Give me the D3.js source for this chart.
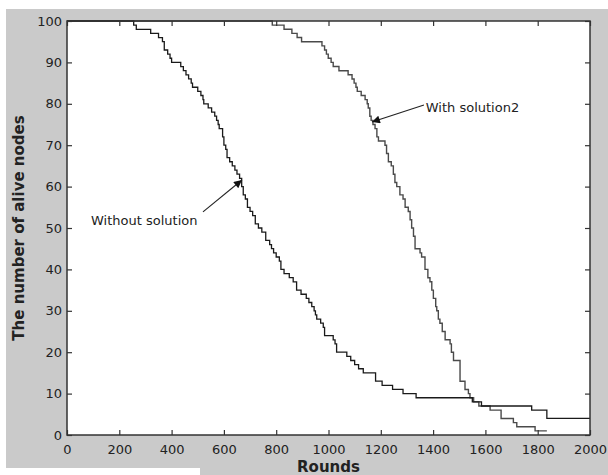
<!DOCTYPE html>
<html>
<head>
<meta charset="utf-8">
<script src="https://cdn.jsdelivr.net/npm/d3@7"></script>
<style>
  body { margin: 0; background: #fff; }
  svg { display: block; }
</style>
</head>
<body>
<script>
const WIDTH = 608;
const HEIGHT = 475;
const PLOT = {LEFT: 67, RIGHT: 590, TOP: 21, BOTTOM: 435};

// rounds where the number of alive nodes changes (step after)
const withoutRounds = [0, 255, 265, 320, 350, 365, 372, 385, 394, 400, 435, 445, 455, 465, 475, 480, 500, 512, 520, 523,
  540, 553, 565, 572, 578, 582, 595, 600, 607, 612, 622, 632, 642, 650, 660, 668, 674, 682, 690, 700,
  710, 720, 732, 745, 760, 775, 782, 790, 800, 812, 818, 830, 850, 865, 878, 895, 915, 925, 936, 945,
  950, 955, 970, 980, 985, 1018, 1025, 1031, 1070, 1085, 1100, 1115, 1133, 1180, 1205, 1245, 1285, 1335, 1550, 1585,
  1777, 1835, 2000];
const withoutNodes = [100, 99, 98, 97, 96, 95, 93, 92, 91, 90, 89, 88, 87, 86, 85, 84, 83, 82, 81, 80,
  79, 78, 77, 76, 75, 74, 72, 70, 69, 67, 66, 65, 64, 63, 62, 60, 58, 57, 55, 54,
  53, 51, 50, 49, 47, 46, 45, 44, 43, 42, 40, 39, 38, 37, 35, 34, 33, 32, 31, 30,
  29, 28, 27, 26, 24, 23, 22, 20, 19, 18, 17, 16, 15, 13, 12, 11, 10, 9, 8, 7,
  6, 4, 4];

const withRounds = [0, 785, 830, 860, 880, 897, 975, 985, 992, 999, 1010, 1018, 1040, 1075, 1090, 1098, 1105, 1110, 1125, 1140,
  1148, 1152, 1158, 1163, 1170, 1178, 1185, 1191, 1216, 1222, 1229, 1240, 1248, 1254, 1261, 1273, 1285, 1293, 1305, 1312,
  1318, 1325, 1331, 1350, 1356, 1369, 1380, 1388, 1395, 1401, 1410, 1414, 1420, 1426, 1435, 1446, 1465, 1470, 1478, 1503,
  1522, 1535, 1541, 1555, 1575, 1618, 1660, 1707, 1720, 1790, 1835];
const withNodes = [100, 99, 98, 97, 96, 95, 94, 93, 92, 91, 90, 89, 88, 87, 86, 85, 84, 83, 82, 81,
  80, 79, 77, 76, 75, 74, 72, 71, 70, 68, 66, 65, 63, 61, 60, 58, 57, 55, 54, 52,
  50, 48, 45, 44, 43, 40, 38, 37, 35, 33, 31, 30, 28, 27, 25, 23, 22, 20, 18, 13,
  11, 10, 9, 8, 7, 6, 4, 3, 2, 1, 1];

const xTicks = [0, 200, 400, 600, 800, 1000, 1200, 1400, 1600, 1800, 2000];
const yTicks = [0, 10, 20, 30, 40, 50, 60, 70, 80, 90, 100];

var svg = d3.select("body").append("svg")
    .attr("width", WIDTH)
    .attr("height", HEIGHT);

// figure background (grey, as in the matlab export)
svg.append("rect").attr("width", WIDTH).attr("height", HEIGHT).attr("fill", "#fff");
svg.append("rect")
    .attr("x", 6).attr("y", 9)
    .attr("width", WIDTH - 6).attr("height", HEIGHT - 9)
    .attr("fill", "#cacaca");
svg.append("rect")
    .attr("x", 0).attr("y", 468).attr("width", 200).attr("height", 7)
    .attr("fill", "#fff");

var x = d3.scaleLinear().domain([0, 2000]).range([PLOT.LEFT, PLOT.RIGHT]);
var y = d3.scaleLinear().domain([0, 100]).range([PLOT.BOTTOM, PLOT.TOP]);

svg.append("rect")
    .attr("x", PLOT.LEFT).attr("y", PLOT.TOP)
    .attr("width", PLOT.RIGHT - PLOT.LEFT).attr("height", PLOT.BOTTOM - PLOT.TOP)
    .attr("fill", "#fff");

var line = d3.line()
    .x(d => x(d[0]))
    .y(d => y(d[1]))
    .curve(d3.curveStepAfter);

svg.append("path")
    .datum(d3.zip(withRounds, withNodes))
    .attr("d", line)
    .attr("fill", "none")
    .attr("stroke", "#4a4a4a")
    .attr("stroke-width", 1.4);

svg.append("path")
    .datum(d3.zip(withoutRounds, withoutNodes))
    .attr("d", line)
    .attr("fill", "none")
    .attr("stroke", "#1a1a1a")
    .attr("stroke-width", 1.3);

// axes, ticks pointing inward, box on
function styleAxis(g) {
    g.select(".domain").remove();
    g.selectAll(".tick line").attr("stroke", "#333").attr("stroke-width", 1.2);
    g.selectAll(".tick text")
        .attr("fill", "#222")
        .style("font-family", "'DejaVu Sans', sans-serif")
        .style("font-size", "13px");
}

svg.append("g")
    .attr("transform", "translate(0," + PLOT.BOTTOM + ")")
    .call(d3.axisBottom(x).tickValues(xTicks).tickSize(-5).tickPadding(10).tickFormat(d3.format("d")))
    .call(styleAxis);

svg.append("g")
    .attr("transform", "translate(" + PLOT.LEFT + ",0)")
    .call(d3.axisLeft(y).tickValues(yTicks).tickSize(-5).tickPadding(5).tickFormat(d3.format("d")))
    .call(styleAxis);

svg.append("g")
    .attr("transform", "translate(0," + PLOT.TOP + ")")
    .call(d3.axisTop(x).tickValues(xTicks).tickSize(-5).tickFormat(""))
    .call(styleAxis);

svg.append("g")
    .attr("transform", "translate(" + PLOT.RIGHT + ",0)")
    .call(d3.axisRight(y).tickValues(yTicks).tickSize(-5).tickFormat(""))
    .call(styleAxis);

svg.append("rect")
    .attr("x", PLOT.LEFT).attr("y", PLOT.TOP)
    .attr("width", PLOT.RIGHT - PLOT.LEFT).attr("height", PLOT.BOTTOM - PLOT.TOP)
    .attr("fill", "none")
    .attr("stroke", "#333")
    .attr("stroke-width", 1.5);

// axis titles
svg.append("text")
    .attr("x", (PLOT.LEFT + PLOT.RIGHT) / 2)
    .attr("y", 472)
    .attr("text-anchor", "middle")
    .style("font-family", "'DejaVu Sans', sans-serif")
    .style("font-size", "15px")
    .style("font-weight", "bold")
    .attr("fill", "#222")
    .text("Rounds");

svg.append("text")
    .attr("transform", "translate(24," + (PLOT.TOP + PLOT.BOTTOM) / 2 + ") rotate(-90)")
    .attr("text-anchor", "middle")
    .style("font-family", "'DejaVu Sans', sans-serif")
    .style("font-size", "15px")
    .style("font-weight", "bold")
    .attr("fill", "#222")
    .text("The number of alive nodes");

// annotations with arrows
svg.append("defs").append("marker")
    .attr("id", "head")
    .attr("viewBox", "0 0 10 10")
    .attr("refX", 10).attr("refY", 5)
    .attr("markerWidth", 10).attr("markerHeight", 8)
    .attr("markerUnits", "userSpaceOnUse")
    .attr("orient", "auto")
    .append("path")
        .attr("d", "M0,0L10,5L0,10z")
        .attr("fill", "#111");

function annotate(label, tx, ty, fromX, fromY, toX, toY) {
    svg.append("line")
        .attr("x1", x(fromX)).attr("y1", y(fromY))
        .attr("x2", x(toX)).attr("y2", y(toY))
        .attr("stroke", "#222")
        .attr("stroke-width", 1.1)
        .attr("marker-end", "url(#head)");
    svg.append("text")
        .attr("x", x(tx)).attr("y", y(ty))
        .attr("dy", "0.35em")
        .style("font-family", "'DejaVu Sans', sans-serif")
        .style("font-size", "13px")
        .attr("fill", "#222")
        .text(label);
}

annotate("Without solution", 92, 51.8, 520, 53.9, 669, 61.6);
annotate("With solution2", 1372, 79.2, 1365, 79.7, 1166, 75.6);
</script>
</body>
</html>
